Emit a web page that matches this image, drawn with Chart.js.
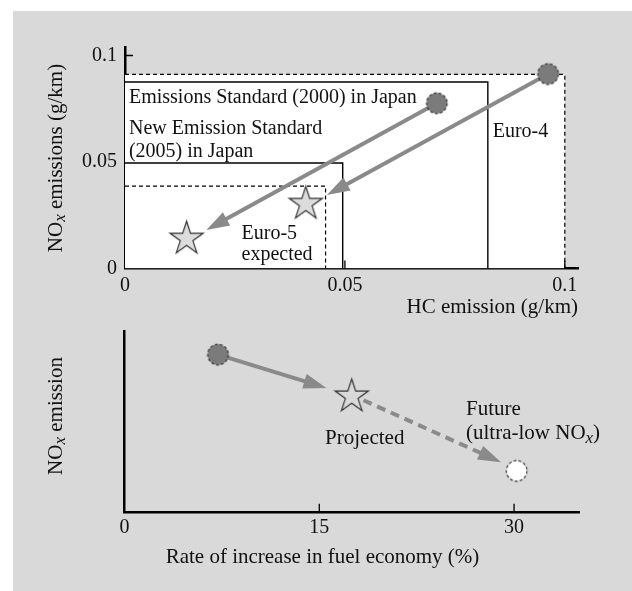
<!DOCTYPE html>
<html lang="en">
<head>
  <meta charset="UTF-8" />
  <title>NOx and HC emission standards</title>
  <script src="https://cdn.jsdelivr.net/npm/chart.js@4.4.1/dist/chart.umd.min.js"></script>
  <style>
    html, body { margin: 0; padding: 0; background: #fff; }
    #frame { position: absolute; left: 13px; top: 11px; width: 619px; height: 580px; background: #d9d9d9; }
    canvas { position: absolute; left: 0; }
    #topChart { top: 0; }
    #bottomChart { top: 320px; }
  </style>
</head>
<body>

<div id="frame"></div>
<canvas id="topChart" width="632" height="320"></canvas>
<canvas id="bottomChart" width="632" height="271"></canvas>

<script>
  // --- upper panel (g/km) ---
  // limit boxes: Euro-4, Japan 2000, Japan 2005, Euro-5
  const limitHC  = [0.1, 0.0825, 0.0495, 0.0456];
  const limitNOx = [0.0911, 0.0876, 0.0495, 0.0387];

  // today's vehicles (circles) -> targets (stars)
  const currentHC  = [0.0709, 0.0962];
  const currentNOx = [0.0776, 0.0913];
  const targetHC   = [0.014, 0.0411];
  const targetNOx  = [0.014, 0.0304];
  const arrowTipHC  = [0.0185, 0.0459];
  const arrowTipNOx = [0.0181, 0.0345];

  const topTicks = [0, 0.05, 0.1];

  // --- lower panel ---
  const economyGain = [7.2, 17.5, 30.2];   // rate of increase in fuel economy (%)
  const noxLevel    = [8.7, 6.4, 2.3];     // NOx emission, relative
  const solidArrowTip = [15.55, 6.86];
  const dashArrowFrom = [18.4, 6.19];
  const dashArrowTip  = [29.0, 2.78];
  const bottomTicks = [0, 15, 30];

  const serif = '"Liberation Serif", "Times New Roman", serif';
  Chart.defaults.font.family = serif;
  Chart.defaults.color = '#111';
  Chart.defaults.animation = false;

  const ARROW_GREY = '#8a8a8a';
  const HEAD_LEN = 23, HEAD_HALF = 7.5;

  function circleMarker(fill, r) {
    const c = document.createElement('canvas');
    const s = Math.ceil(2 * r + 4);
    c.width = c.height = s;
    const g = c.getContext('2d');
    g.beginPath();
    g.arc(s / 2, s / 2, r, 0, Math.PI * 2);
    g.fillStyle = fill;
    g.fill();
    g.setLineDash([3, 2]);
    g.lineWidth = 1.2;
    g.strokeStyle = '#333';
    g.stroke();
    return c;
  }

  function starMarker(fill, R) {
    const c = document.createElement('canvas');
    const s = Math.ceil(2 * R + 4);
    c.width = c.height = s;
    const g = c.getContext('2d');
    g.beginPath();
    for (let i = 0; i < 10; i++) {
      const rr = i % 2 ? R * 0.382 : R;
      const a = -Math.PI / 2 + i * Math.PI / 5;
      const px = s / 2 + rr * Math.cos(a), py = s / 2 + rr * Math.sin(a);
      i ? g.lineTo(px, py) : g.moveTo(px, py);
    }
    g.closePath();
    g.fillStyle = fill;
    g.fill();
    g.lineWidth = 1.2;
    g.strokeStyle = '#333';
    g.stroke();
    return c;
  }

  function pts(xs, ys) { return xs.map((x, i) => ({ x: x, y: ys[i] })); }

  function setFont(ctx, size, sub) {
    ctx.font = sub ? `italic ${Math.round(size * 0.8)}px ${serif}` : `${size}px ${serif}`;
  }

  // text with an italic subscript part, e.g. NO(x)
  function drawRich(ctx, parts, x, y, size, align) {
    let w = 0;
    parts.forEach(p => { setFont(ctx, size, p.sub); w += ctx.measureText(p.t).width; });
    let cx = align === 'center' ? x - w / 2 : (align === 'right' ? x - w : x);
    ctx.textAlign = 'left';
    ctx.textBaseline = 'middle';
    parts.forEach(p => {
      setFont(ctx, size, p.sub);
      ctx.fillText(p.t, cx, p.sub ? y + size * 0.22 : y);
      cx += ctx.measureText(p.t).width;
    });
  }

  const arrowHeads = {
    id: 'arrowHeads',
    beforeDatasetsDraw(chart) {
      chart.data.datasets.forEach((ds, i) => {
        if (!ds.arrow) return;
        const d = chart.getDatasetMeta(i).data;
        const a = d[0], b = d[1];
        const dx = b.x - a.x, dy = b.y - a.y, len = Math.hypot(dx, dy);
        const ux = dx / len, uy = dy / len;
        ds._tip = { x: b.x, y: b.y, ux: ux, uy: uy };
        // pull the shaft back so it ends inside the head
        b.x -= ux * (HEAD_LEN - 4);
        b.y -= uy * (HEAD_LEN - 4);
      });
    },
    afterDatasetsDraw(chart) {
      const ctx = chart.ctx;
      chart.data.datasets.forEach(ds => {
        if (!ds.arrow || !ds._tip) return;
        const t = ds._tip;
        const bx = t.x - t.ux * HEAD_LEN, by = t.y - t.uy * HEAD_LEN;
        ctx.save();
        ctx.fillStyle = ARROW_GREY;
        ctx.beginPath();
        ctx.moveTo(t.x, t.y);
        ctx.lineTo(bx - t.uy * HEAD_HALF, by + t.ux * HEAD_HALF);
        ctx.lineTo(bx + t.uy * HEAD_HALF, by - t.ux * HEAD_HALF);
        ctx.closePath();
        ctx.fill();
        ctx.restore();
      });
    }
  };

  // small tick marks pointing into the plot
  const innerTicks = {
    id: 'innerTicks',
    afterDraw(chart, args, opts) {
      const { ctx, chartArea, scales } = chart;
      ctx.save();
      ctx.strokeStyle = '#000';
      ctx.lineWidth = 1.3;
      ctx.beginPath();
      (opts.x || []).forEach(v => {
        const px = scales.x.getPixelForValue(v);
        ctx.moveTo(px, chartArea.bottom);
        ctx.lineTo(px, chartArea.bottom - opts.len);
      });
      (opts.y || []).forEach(v => {
        const py = scales.y.getPixelForValue(v);
        ctx.moveTo(chartArea.left, py);
        ctx.lineTo(chartArea.left + opts.len, py);
      });
      ctx.stroke();
      ctx.restore();
    }
  };

  // in-plot notes and the rich axis titles
  const notes = {
    id: 'notes',
    afterDraw(chart, args, opts) {
      const { ctx, scales } = chart;
      ctx.save();
      ctx.fillStyle = '#111';
      (opts.items || []).forEach(n => {
        const px = scales.x.getPixelForValue(n.x), py = scales.y.getPixelForValue(n.y);
        drawRich(ctx, n.parts, px, py, n.size, n.align);
      });
      (opts.titles || []).forEach(t => {
        ctx.save();
        ctx.translate(t.px, t.py);
        if (t.rotate) ctx.rotate(-Math.PI / 2);
        drawRich(ctx, t.parts, 0, 0, t.size, 'center');
        ctx.restore();
      });
      ctx.restore();
    }
  };

  function rect(i, dashed, fillWhite) {
    return {
      data: [{ x: 0, y: limitNOx[i] }, { x: limitHC[i], y: limitNOx[i] }, { x: limitHC[i], y: 0 }],
      borderColor: '#000',
      borderWidth: dashed ? 1.2 : 1.4,
      borderDash: dashed ? [4, 3] : [],
      pointRadius: 0,
      fill: fillWhite ? 'origin' : false,
      backgroundColor: '#fff'
    };
  }

  function arrow(from, to, dashed) {
    return {
      arrow: true,
      data: [from, to],
      borderColor: ARROW_GREY,
      borderWidth: 4,
      borderCapStyle: 'butt',
      borderDash: dashed ? [9, 6] : [],
      pointRadius: 0,
      fill: false
    };
  }

  const greyDot = circleMarker('#7b7b7b', 10.3);
  const whiteDot = circleMarker('#fff', 10.3);

  const axisBase = {
    type: 'linear',
    grid: { display: false, drawTicks: false },
    border: { display: true, color: '#000', width: 2.5 }
  };

  new Chart(document.getElementById('topChart'), {
    type: 'line',
    data: {
      datasets: [
        { data: pts(currentHC, currentNOx), showLine: false, pointStyle: [greyDot, greyDot], pointRadius: 10 },
        { data: pts(targetHC, targetNOx), showLine: false, pointStyle: [starMarker('#dcdcdc', 17.5), starMarker('#dcdcdc', 17.5)], pointRadius: 17 },
        arrow({ x: currentHC[0], y: currentNOx[0] }, { x: arrowTipHC[0], y: arrowTipNOx[0] }),
        arrow({ x: currentHC[1], y: currentNOx[1] }, { x: arrowTipHC[1], y: arrowTipNOx[1] }),
        rect(3, true, false),
        rect(2, false, false),
        rect(1, false, false),
        rect(0, true, true)
      ]
    },
    options: {
      responsive: false,
      events: [],
      layout: { padding: { top: 47, right: 54, bottom: 0, left: 0 } },
      scales: {
        x: Object.assign({}, axisBase, {
          min: 0, max: 0.103,
          afterBuildTicks: s => { s.ticks = topTicks.map(v => ({ value: v })); },
          afterFit: s => { s.height = 51.5; },
          ticks: { padding: 5, font: { size: 20 }, callback: v => String(v) },
          title: { display: true, text: 'HC emission (g/km)', align: 'end', font: { size: 21 }, padding: 0 }
        }),
        y: Object.assign({}, axisBase, {
          min: 0, max: 0.104,
          afterBuildTicks: s => { s.ticks = topTicks.map(v => ({ value: v })); },
          afterFit: s => { s.width = 125; },
          ticks: { padding: 8, font: { size: 20 }, callback: v => String(v) }
        })
      },
      plugins: {
        legend: { display: false },
        tooltip: { enabled: false },
        innerTicks: { x: [0.05, 0.1], y: [0.1], len: 8 },
        notes: {
          items: [
            { parts: [{ t: 'Emissions Standard (2000) in Japan' }], x: 0.0009, y: 0.0801, size: 20, align: 'left' },
            { parts: [{ t: 'New Emission Standard' }], x: 0.0009, y: 0.0655, size: 20, align: 'left' },
            { parts: [{ t: '(2005) in Japan' }], x: 0.0009, y: 0.0547, size: 20, align: 'left' },
            { parts: [{ t: 'Euro-4' }], x: 0.0836, y: 0.0641, size: 20, align: 'left' },
            { parts: [{ t: 'Euro-5' }], x: 0.0265, y: 0.0162, size: 20, align: 'left' },
            { parts: [{ t: 'expected' }], x: 0.0265, y: 0.0064, size: 20, align: 'left' }
          ],
          titles: [
            { parts: [{ t: 'NO' }, { t: 'x', sub: true }, { t: ' emissions (g/km)' }], px: 56, py: 158, size: 21, rotate: true }
          ]
        }
      }
    },
    plugins: [arrowHeads, innerTicks, notes]
  });

  new Chart(document.getElementById('bottomChart'), {
    type: 'line',
    data: {
      datasets: [
        { data: pts(economyGain, noxLevel), showLine: false, pointStyle: [greyDot, starMarker('rgba(0,0,0,0)', 17.5), whiteDot], pointRadius: 10 },
        arrow({ x: economyGain[0], y: noxLevel[0] }, { x: solidArrowTip[0], y: solidArrowTip[1] }),
        arrow({ x: dashArrowFrom[0], y: dashArrowFrom[1] }, { x: dashArrowTip[0], y: dashArrowTip[1] }, true)
      ]
    },
    options: {
      responsive: false,
      events: [],
      layout: { padding: { top: 9, right: 53, bottom: 0, left: 0 } },
      scales: {
        x: Object.assign({}, axisBase, {
          min: 0, max: 35,
          afterBuildTicks: s => { s.ticks = bottomTicks.map(v => ({ value: v })); },
          afterFit: s => { s.height = 78.3; },
          ticks: { padding: 3, font: { size: 20 }, callback: v => String(v) }
        }),
        y: Object.assign({}, axisBase, {
          min: 0, max: 10,
          afterFit: s => { s.width = 124.5; },
          ticks: { display: false }
        })
      },
      plugins: {
        legend: { display: false },
        tooltip: { enabled: false },
        innerTicks: { x: [15, 30], y: [], len: 9 },
        notes: {
          items: [
            { parts: [{ t: 'Projected' }], x: 18.5, y: 4.1, size: 21, align: 'center' },
            { parts: [{ t: 'Future' }], x: 26.3, y: 5.7, size: 21, align: 'left' },
            { parts: [{ t: '(ultra-low NO' }, { t: 'x', sub: true }, { t: ')' }], x: 26.3, y: 4.34, size: 21, align: 'left' }
          ],
          titles: [
            { parts: [{ t: 'NO' }, { t: 'x', sub: true }, { t: ' emission' }], px: 56, py: 96, size: 21, rotate: true },
            { parts: [{ t: 'Rate of increase in fuel economy (%)' }], px: 322.5, py: 237, size: 21, rotate: false }
          ]
        }
      }
    },
    plugins: [arrowHeads, innerTicks, notes]
  });
</script>

</body>
</html>
